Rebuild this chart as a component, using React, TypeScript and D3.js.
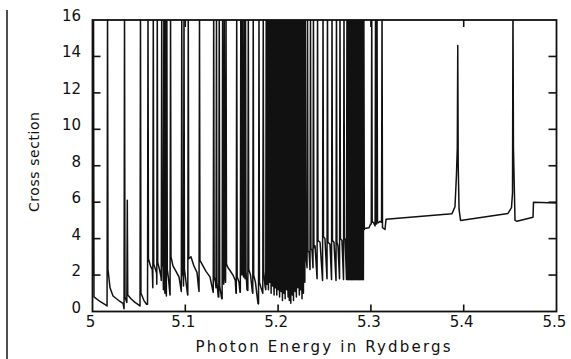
import React from "react";
import * as d3 from "d3";

// Non-resonant background points [energy (Ry), cross section]
const bgPoints: [number, number][] = [
  [5.0001, 2.0], [5.0081, 0.55], [5.0145, 0.35], [5.0189, 1.3], [5.0221, 0.85],
  [5.0296, 0.55], [5.0329, 0.45], [5.0415, 0.7], [5.0458, 0.5], [5.0501, 0.35],
  [5.0555, 0.6], [5.0582, 0.4], [5.0625, 2.5], [5.0644, 2.3], [5.0679, 2.3],
  [5.0691, 2.1], [5.0722, 2.3], [5.0738, 1.9], [5.076, 2.4], [5.0819, 1.8],
  [5.0833, 1.0], [5.0867, 2.5], [5.09, 2.2], [5.0932, 1.9], [5.0954, 1.2],
  [5.0978, 1.9], [5.1008, 1.6], [5.1024, 0.95], [5.1061, 3.0], [5.1093, 2.5],
  [5.1126, 2.15], [5.1145, 1.2], [5.118, 2.6], [5.1223, 2.2], [5.1266, 1.9],
  [5.1298, 1.1], [5.1325, 1.6], [5.1355, 0.8], [5.1392, 0.7], [5.146, 2.4],
  [5.1482, 2.25], [5.1514, 2.0], [5.1539, 1.7], [5.1546, 1.0], [5.1579, 1.6],
  [5.159, 1.05], [5.1665, 1.2], [5.1703, 2.0], [5.1722, 1.1], [5.1756, 1.6],
  [5.1783, 0.45], [5.1816, 1.3], [5.1859, 1.4],
  [5.2333, 3.3], [5.2365, 3.4], [5.2398, 3.6], [5.2452, 3.8], [5.2505, 4.0],
  [5.2559, 3.7], [5.2602, 3.8], [5.2645, 3.6], [5.2688, 3.9], [5.2722, 4.0],
  [5.2931, 4.55], [5.298, 4.6], [5.2996, 4.8], [5.3026, 4.9], [5.308, 4.87],
  [5.3098, 4.95], [5.3152, 4.5], [5.3163, 5.06], [5.3874, 5.37], [5.3906, 5.75],
  [5.3922, 7.5], [5.395, 5.6], [5.3966, 5.0], [5.4477, 5.38], [5.4515, 5.7],
  [5.4553, 5.0], [5.4574, 4.95], [5.4747, 5.17], [5.4752, 6.0], [5.5, 5.95],
];

// Resonances: [energy, dip value, value just after, peak (default off-scale)]
const resonances: number[][] = [
  [5.0011, 2.0, 0.8], [5.0162, 0.3, 2.3], [5.0345, 0.15, 0.8], [5.0375, 0.5, 0.9, 6.1],
  [5.0517, 0.3, 1.0], [5.0598, 0.4, 2.9], [5.0655, 1.3, 2.6], [5.0698, 1.5, 2.7],
  [5.0746, 1.7, 2.8], [5.0769, 1.2, 2.5], [5.0785, 1.0, 2.4], [5.0801, 0.85, 2.3],
  [5.0841, 0.9, 3.0], [5.0962, 1.1, 2.2], [5.0986, 1.4, 2.3], [5.1032, 0.9, 2.9],
  [5.1153, 1.1, 2.8], [5.1306, 1.05, 1.9], [5.1336, 1.3, 1.6], [5.1366, 0.8, 1.4],
  [5.1402, 0.7, 2.0], [5.142, 1.5, 2.2], [5.1439, 1.6, 2.6], [5.1554, 1.0, 1.9],
  [5.1598, 1.05, 2.6], [5.1615, 2.0, 2.5], [5.1633, 1.9, 2.4], [5.1649, 1.8, 2.2],
  [5.1679, 1.15, 2.3], [5.1732, 1.0, 2.0], [5.1794, 0.42, 1.6], [5.184, 1.0, 2.2],
  [5.1872, 1.2, 2.3],
  [5.1886, 1.5, 2.4], [5.1901, 1.2, 2.2], [5.1917, 1.6, 2.5], [5.193, 1.0, 2.3],
  [5.1946, 1.4, 2.1], [5.1962, 0.9, 2.4], [5.1975, 1.3, 2.2], [5.1991, 0.9, 2.6],
  [5.2007, 1.2, 2.3], [5.2021, 0.8, 2.1], [5.2037, 1.1, 2.4], [5.2052, 0.6, 2.2],
  [5.2068, 1.0, 2.5], [5.2081, 0.7, 2.3], [5.2097, 1.2, 2.0], [5.2113, 0.8, 2.4],
  [5.2126, 0.6, 2.2], [5.2142, 0.45, 2.5], [5.2158, 0.9, 2.3], [5.2171, 0.6, 2.1],
  [5.2188, 1.1, 2.4], [5.2202, 0.8, 2.6], [5.2218, 1.3, 2.3], [5.2234, 0.9, 2.5],
  [5.2247, 1.2, 2.2], [5.2263, 0.7, 2.4], [5.2278, 1.0, 2.7], [5.2293, 1.6, 3.2],
  [5.2317, 2.4, 3.3], [5.2349, 2.3, 3.4], [5.2381, 2.4, 3.5], [5.2425, 1.8, 3.9],
  [5.2484, 1.7, 4.1], [5.2532, 1.8, 3.8], [5.2581, 1.75, 3.9], [5.2629, 1.7, 3.8],
  [5.2667, 1.8, 4.0], [5.271, 1.75, 4.0],
  [5.2742, 1.75, 1.8], [5.2755, 1.75, 1.8], [5.2768, 1.75, 1.8], [5.2781, 1.75, 1.8],
  [5.2794, 1.75, 1.8], [5.2807, 1.75, 1.8], [5.282, 1.75, 1.8], [5.2833, 1.75, 1.8],
  [5.2846, 1.75, 1.8], [5.2859, 1.75, 1.8], [5.2872, 1.75, 1.8], [5.2885, 1.75, 1.8],
  [5.2898, 1.75, 1.8], [5.2911, 1.75, 1.8], [5.2924, 1.75, 4.5],
  [5.3009, 4.8, 4.9], [5.305, 4.7, 4.8], [5.3066, 4.8, 4.87], [5.312, 4.9, 4.6],
  [5.3936, 9.0, 8.0, 14.6], [5.4531, 6.5, 9.0],
];

const xTicks = [5, 5.1, 5.2, 5.3, 5.4, 5.5];
const yTicks = [0, 2, 4, 6, 8, 10, 12, 14, 16];
const xTitle = "Photon Energy in Rydbergs";
const yTitle = "Cross section";

export default function App() {
  const W = 571, H = 359;
  const L = 92.5, R = 556.5, T = 20, B = 311.5;
  const x = d3.scaleLinear().domain([5, 5.5]).range([L, R]);
  const y = d3.scaleLinear().domain([0, 16]).range([B, T]);
  const half = 0.0005;

  const pts: [number, number][] = [
    ...bgPoints.map(([e, v]) => ({ e, p: [[e, v]] as [number, number][] })),
    ...resonances.map(([e, dip, post, peak]) => ({
      e,
      p: [[e - half, dip], [e, peak ?? 17], [e + half, post]] as [number, number][],
    })),
  ]
    .sort((a, b) => a.e - b.e)
    .flatMap((o) => o.p);

  const line = d3.line<[number, number]>().x((d) => x(d[0])).y((d) => y(d[1]));
  const font = "'DejaVu Sans', sans-serif";

  return (
    <svg width={W} height={H} style={{ position: "absolute", left: 0, top: 0, background: "#fff" }}>
      <defs>
        <clipPath id="plot">
          <rect x={L} y={T} width={R - L} height={B - T} />
        </clipPath>
      </defs>
      <line x1={7} y1={10} x2={7} y2={359} stroke="#222" strokeWidth={1.6} />
      <path d={line(pts) ?? ""} fill="none" stroke="#111" strokeWidth={1.5} clipPath="url(#plot)" strokeLinejoin="round" />
      <rect x={L} y={T} width={R - L} height={B - T} fill="none" stroke="#111" strokeWidth={1.8} />
      {xTicks.slice(1, -1).map((t) => (
        <g key={"xt" + t}>
          <line x1={x(t)} x2={x(t)} y1={B} y2={B - 7} stroke="#111" strokeWidth={1.6} />
          <line x1={x(t)} x2={x(t)} y1={T} y2={T + 7} stroke="#111" strokeWidth={1.6} />
        </g>
      ))}
      {yTicks.slice(1, -1).map((t) => (
        <g key={"yt" + t}>
          <line x1={L} x2={L + 8} y1={y(t)} y2={y(t)} stroke="#111" strokeWidth={1.6} />
          <line x1={R} x2={R - 8} y1={y(t)} y2={y(t)} stroke="#111" strokeWidth={1.6} />
        </g>
      ))}
      {xTicks.map((t) => (
        <text key={"xl" + t} x={x(t) - 2} y={327} textAnchor="middle" fontFamily={font} fontSize={15} fill="#111">
          {d3.format("~g")(t)}
        </text>
      ))}
      {yTicks.map((t) => (
        <text key={"yl" + t} x={81} y={y(t) + 1} textAnchor="end" fontFamily={font} fontSize={15} fill="#111">
          {t}
        </text>
      ))}
      <text x={323} y={352} textAnchor="middle" fontFamily={font} fontSize={15} fill="#111"
        textLength={255} lengthAdjust="spacing">
        {xTitle}
      </text>
      <text transform="translate(39,162) rotate(-90)" textAnchor="middle" fontFamily={font} fontSize={14} fill="#111"
        textLength={100} lengthAdjust="spacing">
        {yTitle}
      </text>
    </svg>
  );
}
